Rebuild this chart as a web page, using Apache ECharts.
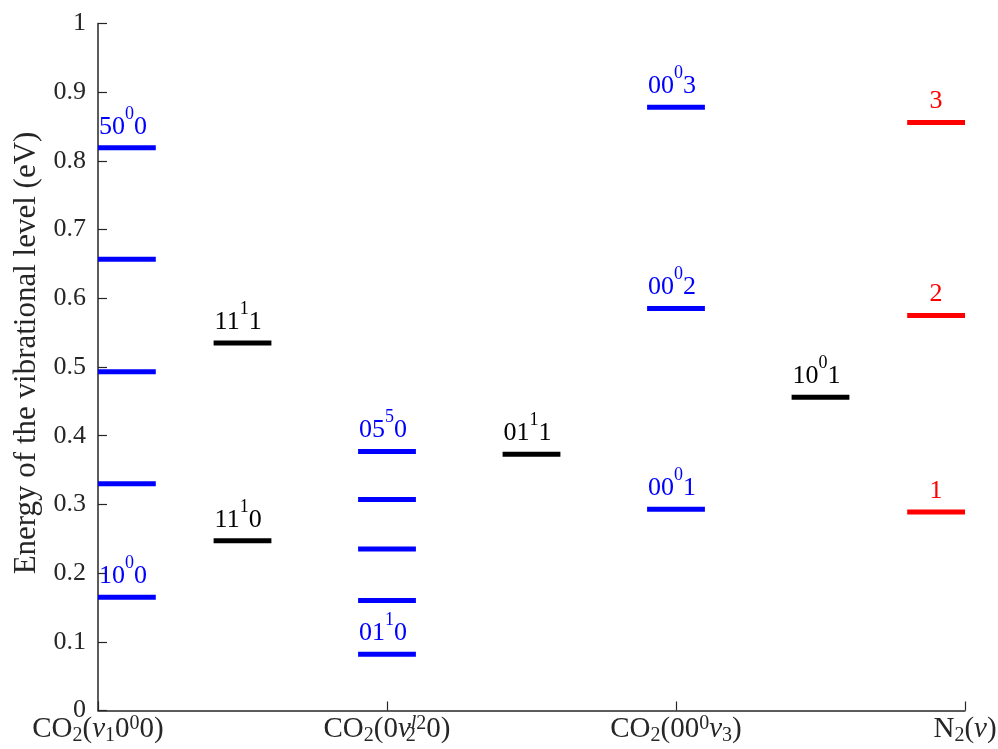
<!DOCTYPE html>
<html>
<head>
<meta charset="utf-8">
<title>CO2 and N2 vibrational levels</title>
<script src="https://cdn.jsdelivr.net/npm/echarts@6/dist/echarts.min.js"></script>
<style>
  html, body { margin: 0; padding: 0; background: #ffffff; }
  #chart { width: 998px; height: 749px; }
</style>
</head>
<body>
<div id="chart"></div>
<script>
// Vibrational level energies (eV) for each mode family
const symStretchLevels = [0.165, 0.330, 0.493, 0.657, 0.819];   // CO2(v1 0^0 0)
const symStretchLabels = ['10|0|0', '', '', '', '50|0|0'];

const comb1Levels = [0.247, 0.535];                               // 11^1 v3
const comb1Labels = ['11|1|0', '11|1|1'];

const bendLevels = [0.082, 0.160, 0.235, 0.307, 0.377];          // CO2(0 v2^l2 0)
const bendLabels = ['01|1|0', '', '', '', '05|5|0'];

const comb2Levels = [0.373];                                      // 01^1 1
const comb2Labels = ['01|1|1'];

const asymLevels = [0.293, 0.585, 0.878];                         // CO2(00^0 v3)
const asymLabels = ['00|0|1', '00|0|2', '00|0|3'];

const comb3Levels = [0.456];                                      // 10^0 1
const comb3Labels = ['10|0|1'];

const n2Levels = [0.289, 0.575, 0.856];                           // N2(v)
const n2Labels = ['1', '2', '3'];

const tickLabels = [
  '{n|CO}{sub|2}{n|(}{i|v}{sub|1}{n|0}{sup|0}{n|0)}',
  '{n|CO}{sub|2}{n|(0}{i|v}{subz|2}{supi|l}{sup|2}{n|0)}',
  '{n|CO}{sub|2}{n|(00}{sup|0}{i|v}{sub|3}{n|)}',
  '{n|N}{sub|2}{n|(}{i|v}{n|)}'
];

const BLUE = '#0000ff', RED = '#ff0000', BLACK = '#000000', AXIS = '#262626';
const FONT = '"Liberation Serif", "Times New Roman", serif';
const BAR_W = 0.2;

// Column layout: start of each level bar on the x scale
const columns = [
  { x0: 0.0, levels: symStretchLevels, labels: symStretchLabels, color: BLUE, center: false },
  { x0: 0.4, levels: comb1Levels, labels: comb1Labels, color: BLACK, center: false },
  { x0: 0.9, levels: bendLevels, labels: bendLabels, color: BLUE, center: false },
  { x0: 1.4, levels: comb2Levels, labels: comb2Labels, color: BLACK, center: false },
  { x0: 1.9, levels: asymLevels, labels: asymLabels, color: BLUE, center: false },
  { x0: 2.4, levels: comb3Levels, labels: comb3Labels, color: BLACK, center: false },
  { x0: 2.8, levels: n2Levels, labels: n2Labels, color: RED, center: true }
];

function levelRich(color) {
  return {
    n: { fontFamily: FONT, fontSize: 26, lineHeight: 35, fill: color, color: color, verticalAlign: 'bottom' },
    s: { fontFamily: FONT, fontSize: 18, lineHeight: 18, fill: color, color: color, verticalAlign: 'top' }
  };
}

function levelText(lbl) {
  if (!lbl) return '';
  const parts = lbl.split('|');
  if (parts.length === 1) return '{n|' + parts[0] + '}';
  return '{n|' + parts[0] + '}{s|' + parts[1] + '}{n|' + parts[2] + '}';
}

const series = columns.map(function (col) {
  const data = col.levels.map(function (e, i) {
    return { value: [col.x0, col.x0 + BAR_W, e], label: col.labels[i] || '' };
  });
  return {
    type: 'custom',
    data: data,
    clip: false,
    renderItem: function (params, api) {
      const item = data[params.dataIndex];
      const p0 = api.coord([api.value(0), api.value(2)]);
      const p1 = api.coord([api.value(1), api.value(2)]);
      const children = [{
        type: 'line',
        shape: { x1: p0[0], y1: p0[1], x2: p1[0], y2: p1[1] },
        style: { stroke: col.color, lineWidth: 5 }
      }];
      if (item.label) {
        children.push({
          type: 'text',
          x: col.center ? (p0[0] + p1[0]) / 2 : p0[0] + 1,
          y: p0[1] - 8,
          style: {
            text: levelText(item.label),
            rich: levelRich(col.color),
            fill: col.color,
            align: col.center ? 'center' : 'left',
            verticalAlign: 'bottom'
          }
        });
      }
      return { type: 'group', children: children };
    }
  };
});

const chart = echarts.init(document.getElementById('chart'), null, { renderer: 'canvas' });
chart.setOption({
  backgroundColor: '#ffffff',
  animation: false,
  grid: { left: 98, right: 33, top: 23.5, bottom: 38.5, containLabel: false, outerBoundsMode: 'none' },
  xAxis: {
    type: 'value', min: 0, max: 3, interval: 1,
    axisLine: { show: true, lineStyle: { color: AXIS, width: 1.5 } },
    axisTick: { show: true, inside: true, length: 9, lineStyle: { color: AXIS, width: 1.2 } },
    splitLine: { show: false },
    axisLabel: {
      margin: 3,
      formatter: function (v) { return tickLabels[Math.round(v)]; },
      rich: {
        n: { fontFamily: FONT, fontSize: 29, lineHeight: 32, color: AXIS, verticalAlign: 'middle' },
        i: { fontFamily: FONT, fontSize: 29, lineHeight: 32, fontStyle: 'italic', color: AXIS, verticalAlign: 'middle' },
        sub: { fontFamily: FONT, fontSize: 20, lineHeight: 18, color: AXIS, verticalAlign: 'bottom' },
        subz: { fontFamily: FONT, fontSize: 20, lineHeight: 18, width: 0.01, color: AXIS, verticalAlign: 'bottom' },
        sup: { fontFamily: FONT, fontSize: 20, lineHeight: 20, color: AXIS, verticalAlign: 'top' },
        supi: { fontFamily: FONT, fontSize: 20, lineHeight: 20, fontStyle: 'italic', color: AXIS, verticalAlign: 'top' }
      }
    }
  },
  yAxis: {
    type: 'value', min: 0, max: 1, interval: 0.1,
    name: 'Energy of the vibrational level (eV)',
    nameLocation: 'middle', nameRotate: 90, nameGap: 56,
    nameTextStyle: { fontFamily: FONT, fontSize: 31, color: AXIS, padding: [0, 0, 0, 28] },
    axisLine: { show: true, lineStyle: { color: AXIS, width: 1.5 } },
    axisTick: { show: true, inside: true, length: 9, lineStyle: { color: AXIS, width: 1.2 } },
    splitLine: { show: false },
    axisLabel: {
      margin: 12, fontFamily: FONT, fontSize: 26, color: AXIS,
      formatter: function (v) { return String(Math.round(v * 10) / 10); }
    }
  },
  series: series
});
</script>
</body>
</html>
